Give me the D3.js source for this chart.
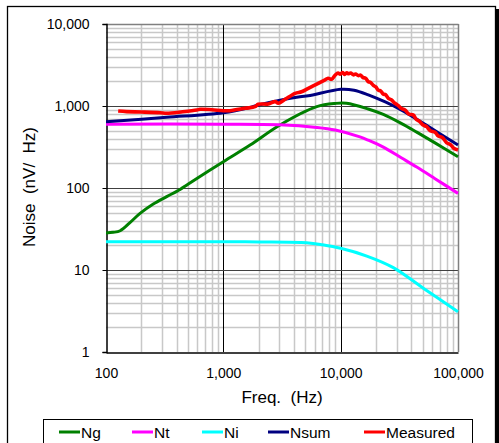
<!DOCTYPE html>
<html><head><meta charset="utf-8">
<script src="https://cdn.jsdelivr.net/npm/d3@7"></script>
<style>
html,body{margin:0;padding:0;background:#fff;}
svg{display:block;font-family:Arial,"Liberation Sans",sans-serif;}
text{white-space:pre;}
</style></head>
<body><svg id="c" width="499" height="443"></svg>
<script>
// ---- data ----
const ngFreq = [100, 115, 132, 160, 195, 253, 329, 428, 503, 1000, 1690, 3040, 6250, 9000, 11200, 17200, 23100, 33100, 44500, 63700, 100000];
const ngVal  = [28.3, 28.8, 30.1, 37.8, 49, 63.8, 78.4, 96, 112, 209, 334, 587, 981, 1075, 1080, 920, 790, 610, 480, 355, 240];

const ntFreq = [100, 1000, 3000, 6250, 9000, 14600, 17200, 23100, 33100, 44500, 63700, 100000];
const ntVal  = [600, 600, 590, 548, 509, 420, 383, 315, 232, 180, 130, 86];

const niFreq = [100, 1000, 2000, 5130, 7000, 10000, 16700, 28100, 50600, 100000];
const niVal  = [22.1, 22.1, 22, 21.5, 20.3, 18.4, 14.8, 10.7, 6.0, 3.1];

const nsumFreq = [100, 329, 1000, 1690, 2000, 4500, 5300, 10000, 13000, 17200, 24000, 33100, 54000, 100000];
const nsumVal  = [644, 728, 828, 963, 1030, 1297, 1330, 1600, 1560, 1370, 1120, 890, 580, 334];

const measFreq = [127, 150, 200, 289, 329, 450, 594, 633, 800, 1000, 1140, 1531, 1863, 1987, 2417, 2760, 2940, 3360, 4090, 4640, 5300, 6440, 7300, 7820, 8380,
  9000, 9500, 9900, 10400, 10800, 11300, 11600, 12200, 12800, 13400, 14100, 14800, 15500, 16300, 17200, 18000, 19000, 20000, 20900, 22000, 23000, 24200, 25500, 27000,
  29000, 31000, 33100, 35500, 38000, 41600, 44000, 47000, 50000, 54000, 58000, 63700, 68000, 74000, 80100, 86000, 92000, 100000];
const measVal  = [869, 855, 845, 828, 815, 850, 893, 912, 900, 877, 877, 937, 981, 1049, 1059, 1130, 1079, 1207, 1428, 1493, 1643, 1893, 2074, 2180, 2120,
  2390, 2530, 2450, 2560, 2420, 2540, 2480, 2530, 2400, 2460, 2350, 2380, 2220, 2180, 1980, 1940, 1780, 1700, 1560, 1520, 1400, 1370, 1240, 1190,
  1080, 1010, 930, 890, 800, 776, 690, 650, 590, 560, 500, 480, 430, 410, 355, 340, 305, 290];

const xTicks = [100, 1000, 10000, 100000];
const yTicks = [1, 10, 100, 1000, 10000];
const seriesNames = ["Ng", "Nt", "Ni", "Nsum", "Measured"];
const seriesColors = ["#008000", "#ff00ff", "#00ffff", "#000080", "#ff0000"];

// ---- layout ----
const svg = d3.select("#c");
const L = 106, R = 458, T = 24, B = 352;
const x = d3.scaleLog().domain([100, 100000]).range([L, R]);
const y = d3.scaleLog().domain([1, 10000]).range([B, T]);
const fmt = d3.format(",");

// outer frame + shadow
svg.append("rect").attr("x", 495).attr("y", 9).attr("width", 4).attr("height", 434).attr("fill", "#000");
svg.append("rect").attr("x", 7.5).attr("y", 6.5).attr("width", 488).attr("height", 445)
  .attr("fill", "none").attr("stroke", "#000").attr("stroke-width", 1.3);

const g = svg.append("g");

// minor grid
const minorX = [], minorY = [];
for (let d = 100; d < 100000; d *= 10) for (let k = 2; k <= 9; k++) minorX.push(d * k);
for (let d = 1; d < 10000; d *= 10) for (let k = 2; k <= 9; k++) minorY.push(d * k);
g.selectAll(".mx").data(minorX).join("line")
  .attr("x1", d => Math.round(x(d)) + 0.5).attr("x2", d => Math.round(x(d)) + 0.5)
  .attr("y1", T).attr("y2", B).attr("stroke", "#c8c8c8").attr("stroke-width", 1.5);
g.selectAll(".my").data(minorY).join("line")
  .attr("y1", d => Math.round(y(d)) + 0.5).attr("y2", d => Math.round(y(d)) + 0.5)
  .attr("x1", L).attr("x2", R).attr("stroke", "#c8c8c8").attr("stroke-width", 1.5);

// major grid
g.selectAll(".Mx").data(xTicks.slice(1, -1)).join("line")
  .attr("x1", d => Math.round(x(d)) + 0.5).attr("x2", d => Math.round(x(d)) + 0.5)
  .attr("y1", T).attr("y2", B).attr("stroke", "#000").attr("stroke-width", 1);
g.selectAll(".My").data(yTicks.slice(1, -1)).join("line")
  .attr("y1", d => Math.round(y(d)) + 0.5).attr("y2", d => Math.round(y(d)) + 0.5)
  .attr("x1", L).attr("x2", R).attr("stroke", "#404040").attr("stroke-width", 1);

// plot border (top/right gray)
g.append("line").attr("x1", L).attr("x2", R + 0.5).attr("y1", T + 0.5).attr("y2", T + 0.5).attr("stroke", "#808080").attr("stroke-width", 1.5);
g.append("line").attr("x1", R + 0.5).attr("x2", R + 0.5).attr("y1", T).attr("y2", B).attr("stroke", "#808080").attr("stroke-width", 1.5);

// axes
const yAxis = d3.axisLeft(y).tickValues(yTicks).tickFormat(fmt).tickSize(4).tickPadding(13);
const ya = svg.append("g").attr("transform", `translate(${L + 0.5},0)`).call(yAxis);
ya.select(".domain").attr("stroke", "#000").attr("stroke-width", 1.5);
ya.selectAll("text").attr("font-size", 14).attr("font-family", "Arial, 'Liberation Sans', sans-serif").attr("fill", "#000");

const xAxis = d3.axisBottom(x).tickValues(xTicks).tickFormat(fmt).tickSize(0).tickPadding(16);
const xa = svg.append("g").attr("transform", `translate(0,${B + 0.5})`).call(xAxis);
xa.select(".domain").attr("stroke", "#000").attr("stroke-width", 1.5);
xa.selectAll("text").attr("font-size", 14).attr("font-family", "Arial, 'Liberation Sans', sans-serif").attr("fill", "#000");

// axis titles
svg.append("text").attr("x", 282).attr("y", 403).attr("text-anchor", "middle")
  .attr("font-size", 17).text("Freq.  (Hz)");
svg.append("text").attr("transform", "translate(35,187) rotate(-90)").attr("text-anchor", "middle")
  .attr("font-size", 17).text("Noise  (nV/  Hz)");

// series
const line = d3.line().x(d => x(d[0])).y(d => y(d[1])).curve(d3.curveCatmullRom.alpha(0.5));
const zip = (a, b) => a.map((f, i) => [f, b[i]]);
const series = [zip(ngFreq, ngVal), zip(ntFreq, ntVal), zip(niFreq, niVal), zip(nsumFreq, nsumVal), zip(measFreq, measVal)];
svg.append("clipPath").attr("id", "pc").append("rect").attr("x", L).attr("y", T - 2).attr("width", R - L + 3).attr("height", B - T + 4);
const sg = svg.append("g").attr("clip-path", "url(#pc)");
series.forEach((s, i) => {
  sg.append("path").datum(s).attr("d", line).attr("fill", "none")
    .attr("stroke", seriesColors[i]).attr("stroke-width", i === 4 ? 3.6 : 3)
    .attr("stroke-linejoin", "round");
});

// legend
svg.append("rect").attr("x", 43.5).attr("y", 419.5).attr("width", 429).attr("height", 40)
  .attr("fill", "#fff").attr("stroke", "#000").attr("stroke-width", 1);
const legX = [59, 132, 202, 268, 364];
seriesNames.forEach((n, i) => {
  svg.append("line").attr("x1", legX[i]).attr("x2", legX[i] + 21).attr("y1", 432).attr("y2", 432)
    .attr("stroke", seriesColors[i]).attr("stroke-width", 3);
  svg.append("text").attr("x", legX[i] + 22).attr("y", 437.5).attr("font-size", 15.5).text(n);
});
</script></body></html>
